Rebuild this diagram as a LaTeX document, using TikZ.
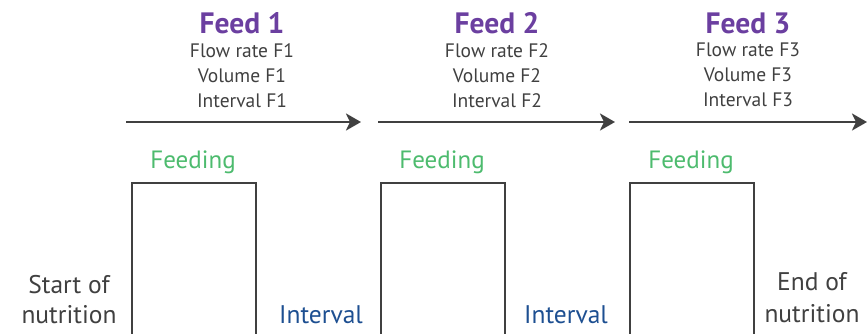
\documentclass[tikz,border=0pt]{standalone}
\usepackage{fontspec}
\setmainfont{PT Sans}
\usetikzlibrary{arrows.meta, positioning}
\definecolor{feedpurple}{HTML}{6B3FA0}
\definecolor{feedgreen}{HTML}{4DBB6E}
\definecolor{ivblue}{HTML}{1D4F91}
\definecolor{darkgrey}{HTML}{404040}
\begin{document}
\begin{tikzpicture}[x=1pt, y=-1pt,
  title/.style={font=\fontsize{29.5}{32}\selectfont\bfseries, text=feedpurple, anchor=base, inner sep=0pt},
  param/.style={font=\fontsize{19.5}{25}\selectfont, text=darkgrey, align=center, anchor=north, inner sep=0pt},
  feedlbl/.style={font=\fontsize{25}{28}\selectfont, text=feedgreen, anchor=base, inner sep=0pt},
  ivlbl/.style={font=\fontsize{25.5}{28}\selectfont, text=ivblue, anchor=base, inner sep=0pt},
  endlbl/.style={font=\fontsize{25.5}{28}\selectfont, text=darkgrey, anchor=base, inner sep=0pt},
  arr/.style={-{Stealth[length=15pt, width=17pt, inset=4pt]}, line width=2.6pt, draw=darkgrey},
  pulse/.style={line width=2.6pt, draw=darkgrey}]
\useasboundingbox (0,0) rectangle (868,333);
% Feed headings
\node[title] (f1) at (242,33) {Feed 1};
\node[param, below=10pt of f1.base] (p1) {Flow rate F1\\Volume F1\\Interval F1};
\node[title] (f2) at (497,33) {Feed 2};
\node[param, below=10pt of f2.base] (p2) {Flow rate F2\\Volume F2\\Interval F2};
\node[title] (f3) at (748,33) {Feed 3};
\node[param, below=10pt of f3.base] (p3) {Flow rate F3\\Volume F3\\Interval F3};
% Time arrows
\coordinate (a1s) at (126,122); \coordinate (a1e) at (361,122);
\coordinate (a2s) at (378,122); \coordinate (a2e) at (615,122);
\coordinate (a3s) at (629,122); \coordinate (a3e) at (867,122);
\draw[arr] (a1s) -- (a1e);
\draw[arr] (a2s) -- (a2e);
\draw[arr] (a3s) -- (a3e);
% Feeding pulses
\foreach \i/\xl in {1/132, 2/381, 3/630} {
  \coordinate (b\i l) at (\xl,340);
  \coordinate (b\i t) at (\xl+124,183);
  \coordinate (b\i r) at (\xl+124,340);
  \draw[pulse] (b\i l) |- (b\i t) -- (b\i r);
  \node[feedlbl] (fd\i) at (\xl+61,168) {Feeding};
}
% Labels at the bottom
\node[endlbl] (start) at (69,293) {Start of};
\node[endlbl] (startb) at (69,323) {nutrition};
\node[ivlbl] (iv1) at (321,323) {Interval};
\node[ivlbl] (iv2) at (566,323) {Interval};
\node[endlbl] (stop) at (812,290) {End of};
\node[endlbl] (stopb) at (812,322) {nutrition};
\end{tikzpicture}
\end{document}
